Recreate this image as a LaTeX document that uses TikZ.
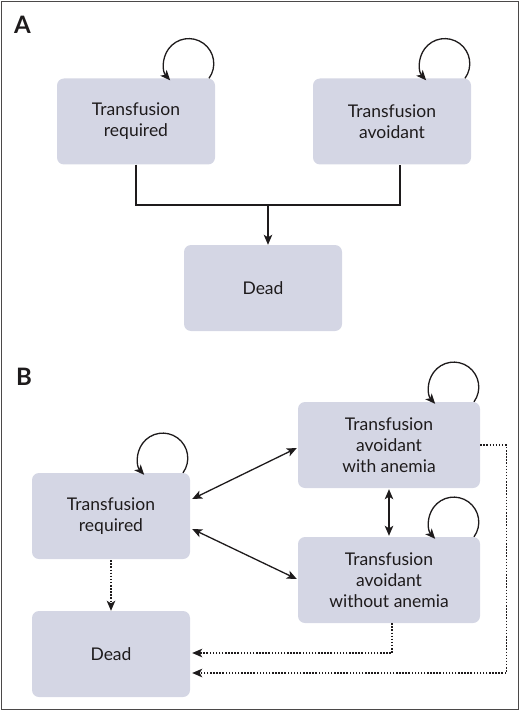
\documentclass[tikz,border=0pt]{standalone}
\usepackage{fontspec}
\setmainfont{Lato}
\usepackage{xcolor}
\usepackage{tikz}
\usetikzlibrary{arrows.meta}
\definecolor{boxfill}{RGB}{212,214,228}
\definecolor{inkdark}{RGB}{30,27,28}
\newcommand*\boxwd{158pt}
\newcommand*\boxht{86pt}
\tikzset{
    state/.style    = {draw=none,fill=boxfill,rounded corners=7pt,
                      minimum width=\boxwd, minimum height=\boxht,
                      align=center, text=inkdark, inner sep=0pt,
                      font=\fontsize{17.5}{21}\selectfont},
    widestate/.style= {state, minimum width=182pt},
    panel/.style    = {font=\fontsize{24}{24}\selectfont\bfseries, text=inkdark, anchor=north west, inner sep=0pt},
    flow/.style     = {line width=1.3pt, draw=inkdark, -{Stealth[length=10pt,width=8.5pt,inset=2.5pt]}},
    twoway/.style   = {flow, {Stealth[length=10pt,width=8.5pt,inset=2.5pt]}-{Stealth[length=10pt,width=8.5pt,inset=2.5pt]}},
    death/.style    = {flow, line width=1.4pt, dash pattern=on 1.5pt off 1.6pt},
    selfloop/.style = {flow},
    plain/.style    = {line width=1.2pt, draw=inkdark},
  }

\begin{document}
\begin{tikzpicture}[x=1pt,y=-1pt]
        % frame of the whole figure
        \useasboundingbox (0,0) rectangle (520,711);
        \draw[line width=1pt, draw=inkdark!80] (1.5,1.5) rectangle (518,709.5);

        % ---------- panel A ----------
        \node[panel] (labA) at (14,16) {A};
        \node[state] (reqA)  at (136,121.5) {Transfusion\\required};
        \node[state] (avdA)  at (392,121.5) {Transfusion\\avoidant};
        \node[state] (deadA) at (263,288)   {Dead};

        % self loops
        \draw[selfloop] ([xshift=73pt]reqA.north) arc[start angle=-36, end angle=222, radius=25pt];
        \draw[selfloop] ([xshift=73pt]avdA.north) arc[start angle=-36, end angle=222, radius=25pt];

        % both states lead to death
        \coordinate (join) at (268,205);
        \draw[plain] (reqA.south) |- (join) -| ([xshift=8pt]avdA.south);
        \draw[flow] (join) -- (join |- deadA.north);

        % ---------- panel B ----------
        \node[panel] (labB) at (16,368) {B};
        \node[state]     (reqB)  at (111,516) {Transfusion\\required};
        \node[state]     (deadB) at (111,654) {Dead};
        \node[widestate] (anem)  at (389,445) {Transfusion\\avoidant\\with anemia};
        \node[widestate] (noan)  at (389,580) {Transfusion\\avoidant\\without anemia};

        % self loops
        \draw[selfloop] ([xshift=72pt]reqB.north) arc[start angle=-36, end angle=222, radius=25pt];
        \draw[selfloop] ([xshift=85pt]anem.north) arc[start angle=-36, end angle=222, radius=25pt];
        \draw[selfloop] ([xshift=85pt]noan.north) arc[start angle=-36, end angle=222, radius=25pt];

        % transitions between living states
        \draw[twoway] ([xshift=2pt,yshift=17pt]reqB.east) -- ([xshift=-1pt,yshift=-3pt]anem.west);
        \draw[twoway] ([xshift=2pt,yshift=-13pt]reqB.east) -- ([xshift=-1pt,yshift=1pt]noan.west);
        \draw[twoway] ([yshift=-1pt]anem.south) -- ([yshift=1pt]noan.north);

        % transitions to death
        \draw[death] ([yshift=-1pt]reqB.south) -- (deadB.north);
        \draw[death] ([xshift=3pt]noan.south) |- ([xshift=2pt,yshift=1pt]deadB.east);
        \draw[death] (anem.east) -- ++(26,0) |- ([xshift=2pt,yshift=-19pt]deadB.east);
    \end{tikzpicture}
\end{document}
